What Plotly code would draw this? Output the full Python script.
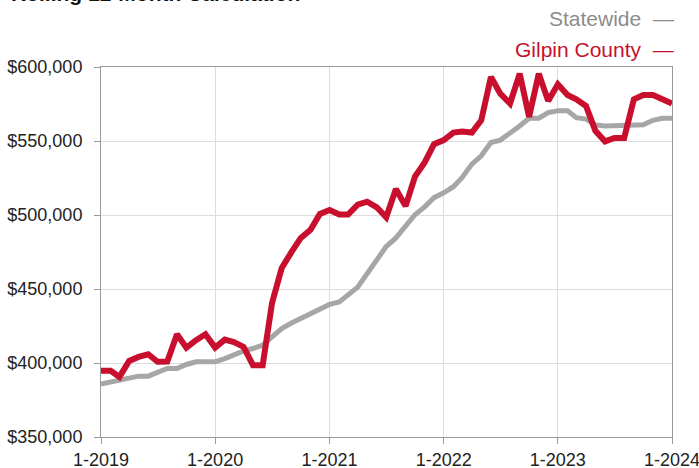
import plotly.graph_objects as go
import pandas as pd

months = pd.date_range("2019-01-01", "2024-01-01", freq="MS")

statewide = [385.7, 387.3, 388.4, 390.2, 391.1, 391.1, 393.3, 396.3, 396.3, 399.0,
             400.8, 400.8, 400.8, 403.0, 405.9, 408.2, 409.8, 412.0, 417.6, 423.2,
             427.0, 430.0, 433.4, 436.0, 439.6, 441.2, 445.7, 451.3, 460.3, 469.7,
             478.7, 484.5, 492.0, 500.2, 505.5, 511.7, 515.0, 519.1, 525.4, 534.4,
             540.0, 549.0, 550.6, 555.1, 560.2, 565.4, 565.4, 569.2, 570.4, 570.4,
             565.8, 564.8, 560.9, 560.2, 560.2, 560.2, 560.2, 560.9, 564.0, 565.4,
             565.4]

gilpin = [394.7, 394.7, 390.6, 401.4, 404.1, 405.9, 400.8, 401.0, 419.4, 410.4,
          415.4, 419.4, 410.4, 415.8, 414.2, 410.9, 398.5, 398.5, 440.6, 464.2,
          474.9, 484.5, 490.0, 500.7, 503.4, 500.3, 500.3, 507.0, 509.0, 505.2,
          498.5, 517.6, 506.0, 525.9, 535.5, 547.9, 550.6, 555.7, 556.4, 555.7,
          564.0, 593.3, 582.0, 575.3, 595.5, 566.3, 595.5, 577.1, 588.3, 581.1,
          578.2, 573.7, 556.9, 549.7, 552.0, 552.0, 578.2, 581.1, 581.1, 578.2,
          575.3]

statewide_vals = [v * 1000 for v in statewide]
gilpin_vals = [v * 1000 for v in gilpin]

tick_dates = ["2019-01-01", "2020-01-01", "2021-01-01", "2022-01-01", "2023-01-01", "2024-01-01"]
tick_labels = ["1-2019", "1-2020", "1-2021", "1-2022", "1-2023", "1-2024"]
y_ticks = [350000, 400000, 450000, 500000, 550000, 600000]
y_labels = ["$350,000", "$400,000", "$450,000", "$500,000", "$550,000", "$600,000"]

RED = "#C8102E"
GRAY = "#A6A6A6"
FONT = "Liberation Sans, Arial, Helvetica, sans-serif"

L, R, T, B = 101, 27, 67, 31
PW, PH = 699 - L - R, 468 - T - B

fig = go.Figure()
fig.add_trace(go.Scatter(x=months, y=statewide_vals, mode="lines", name="Statewide",
                         line=dict(color=GRAY, width=5), showlegend=False))
fig.add_trace(go.Scatter(x=months, y=gilpin_vals, mode="lines", name="Gilpin County",
                         line=dict(color=RED, width=6), showlegend=False))

fig.update_layout(
    width=699, height=468,
    margin=dict(l=L, r=R, t=T, b=B, autoexpand=False),
    paper_bgcolor="white", plot_bgcolor="white",
    font=dict(family=FONT, color="#222222", size=18),
    xaxis=dict(range=["2019-01-01", "2024-01-01"], tickvals=tick_dates, ticktext=tick_labels,
               showgrid=True, gridcolor="#DDDDDD", gridwidth=1,
               showline=True, linecolor="#999999", linewidth=1, mirror=True,
               ticks="outside", ticklen=6, tickcolor="#999999", automargin=False,
               ticklabeloverflow="allow", ticklabelstandoff=0,
               tickfont=dict(size=18, color="#222222"), zeroline=False),
    yaxis=dict(range=[350000, 600000], tickvals=y_ticks, ticktext=y_labels,
               showgrid=True, gridcolor="#DDDDDD", gridwidth=1,
               showline=True, linecolor="#999999", linewidth=1, mirror=True,
               ticks="outside", ticklen=6, tickcolor="#999999", automargin=False,
               ticklabeloverflow="allow", ticklabelstandoff=8,
               tickfont=dict(size=18, color="#222222"), zeroline=False),
    annotations=[
        dict(text="<b>Rolling 12-Month Calculation</b>", xref="paper", yref="paper",
             x=(9 - L) / PW, y=1 + (T - 7) / PH, xanchor="left", yanchor="bottom",
             showarrow=False, font=dict(size=21, color="#111111", family=FONT)),
        dict(text="Statewide  \u2014", xref="paper", yref="paper",
             x=(676 - L) / PW, y=1 + (T - 18) / PH, xanchor="right", yanchor="middle",
             showarrow=False, font=dict(size=21, color="#8C8C8C", family=FONT)),
        dict(text="Gilpin County  \u2014", xref="paper", yref="paper",
             x=(676 - L) / PW, y=1 + (T - 49) / PH, xanchor="right", yanchor="middle",
             showarrow=False, font=dict(size=21, color=RED, family=FONT)),
    ],
)

fig.write_html("out.html", config={"displayModeBar": False},
               post_script="document.body.style.margin='0';")
